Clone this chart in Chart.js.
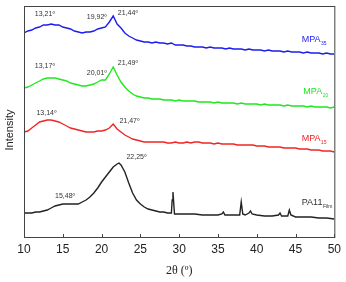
<!DOCTYPE html>
<html>
<head>
<meta charset="utf-8">
<script src="https://cdn.jsdelivr.net/npm/chart.js@4.4.0/dist/chart.umd.min.js"></script>
<style>
  html,body{margin:0;padding:0;background:#fff}
  #wrap{width:346px;height:282px}
</style>
</head>
<body>
<div id="wrap"><canvas id="xrd" width="346" height="282"></canvas></div>
<script>
// 2θ sampling grid for the three MPA scans (10..50 every 0.5 deg)
const THETA = Array.from({length:81},(_,i)=>10+i*0.5)

// stacked intensities (arbitrary units, offsets included)
const MPA35 = [204,206,207,209,210,212,212,213,212,212,
  210,209,208,206,205,204,205,205,206,208,
  209,210,215,221,213,209,204,201,199,197,
  196,195,195,194,195,194,194,193,194,192,
  192,192,191,191,190,190,190,189,190,189,
  189,189,188,189,188,188,188,187,188,187,
  187,187,186,187,186,186,186,185,186,185,
  185,185,184,185,184,184,184,183,184,183,
  183]
const MPA20 = [149,150,152,154,156,158,159,159,159,158,
  157,156,154,153,152,151,151,152,153,155,
  157,157,163,170,162,155,150,146,143,141,
  140,139,139,138,138,138,137,137,137,136,
  137,136,136,136,136,135,135,135,135,134,
  135,134,134,134,134,133,134,133,133,133,
  133,132,133,132,132,132,132,131,132,131,
  131,131,131,130,131,130,130,130,130,129,
  130]
const MPA15 = [105,106,109,112,115,116,117,117,116,115,
  113,111,109,108,107,106,105,105,105,106,
  106,107,109,113,108,105,102,100,98,97,
  96,95,95,95,95,95,95,94,94,95,
  94,94,95,94,95,95,94,94,94,93,
  94,93,93,93,93,92,92,92,92,92,
  91,91,91,90,90,90,90,89,89,89,
  89,88,88,88,87,87,87,86,86,86,
  85]
const PA11_THETA = [10,10.5,11,11.5,12,12.5,13,13.5,14,14.5,15,15.5,16,16.5,17,17.5,18,18.5,19,19.5,20,20.5,21,21.5,22,
  22.25,22.5,23,23.5,24,24.5,25,25.5,26,26.5,27,27.5,28,28.5,29,
  29.1,29.2,29.3,29.4,30,31,32,33,34,35,35.5,35.7,35.9,36,37,37.8,38,38.2,38.5,39,39.2,39.4,
  40,41,42,42.8,43,43.2,44,44.2,44.4,45,46,47,48,49,50]
const PA11 = [24,24,24,25,25,26,27,29,31,32,33,33,33,33,33,35,37,40,44,49,55,60,65,70,73,
  74,72,65,54,44,37,33,30,28,27,26,25,25,24,24,
  37,45,34,23,23,23,23,22,22,22,23,25,22,22,22,22,35,23,22,24,26,23,
  22,21,21,22,24,21,21,27,22,20,20,20,19,19,18]

const X_TICKS = [10,15,20,25,30,35,40,45,50]

const C = { blue:'#1c1cf0', green:'#1ee81e', red:'#f02424', black:'#222', text:'#222', axis:'#444' }
const pts = (xs,ys)=>xs.map((x,i)=>({x, y:ys[i]}))

// peak notes: [text, theta, intensity]
const notes = [
  ['13,21º',11.4,223],['19,92º',18.1,220],['21,44º',22.1,224],
  ['13,17º',11.4,171],['20,01º',18.1,164],['21,49º',22.1,174],
  ['13,14º',11.6,124],['21,47º',22.3,116],
  ['22,25º',23.2,80],['15,48º',14.0,41]
]
const tags = [
  ['MPA','35',45.8,197,C.blue],['MPA','20',46.0,145,C.green],
  ['MPA','15',45.8,98,C.red],['PA11','Film',45.8,34,'#333']
]

const decor = {
  id:'decor',
  afterDraw(chart){
    const {ctx, chartArea:a, scales:{x,y}} = chart
    ctx.save()
    ctx.strokeStyle = C.axis; ctx.lineWidth = 1
    ctx.strokeRect(a.left+0.5, a.top+0.5, a.right-a.left, a.bottom-a.top)
    ctx.beginPath()
    X_TICKS.forEach(v=>{ const px = Math.round(x.getPixelForValue(v))+0.5; ctx.moveTo(px,a.bottom); ctx.lineTo(px,a.bottom-3) })
    ctx.stroke()
    ctx.fillStyle = '#333'; ctx.font = '7px "Liberation Sans", Arial'
    ctx.textBaseline = 'middle'; ctx.textAlign = 'left'
    notes.forEach(([t,tx,ty])=>ctx.fillText(t, x.getPixelForValue(tx), y.getPixelForValue(ty)))
    tags.forEach(([t,sub,tx,ty,col])=>{
      const px = x.getPixelForValue(tx), py = y.getPixelForValue(ty)
      ctx.fillStyle = col; ctx.font = '9px "Liberation Sans", Arial'
      ctx.fillText(t, px, py)
      const w = ctx.measureText(t).width
      ctx.font = '5px "Liberation Sans", Arial'
      ctx.fillText(sub, px+w+0.5, py+4)
    })
    ctx.fillStyle = C.text; ctx.textAlign = 'center'
    ctx.font = '12px "Liberation Serif", serif'
    ctx.fillText('2θ (º)', (a.left+a.right)/2, 271)
    ctx.translate(10, 130); ctx.rotate(-Math.PI/2)
    ctx.font = '11px "Liberation Sans", Arial'
    ctx.fillText('Intensity', 0, 0)
    ctx.restore()
  }
}

const line = (data,color)=>({ data, borderColor:color, borderWidth:1.4, pointRadius:0, tension:0, fill:false })

new Chart(document.getElementById('xrd'),{
  type:'line',
  data:{ datasets:[
    line(pts(THETA,MPA35),C.blue),
    line(pts(THETA,MPA20),C.green),
    line(pts(THETA,MPA15),C.red),
    line(pts(PA11_THETA,PA11),C.black)
  ]},
  options:{
    responsive:false, animation:false,
    layout:{ padding:{left:24,right:10,top:6,bottom:0} },
    plugins:{ legend:{display:false}, tooltip:{enabled:false} },
    scales:{
      x:{ type:'linear', min:10, max:50,
        afterBuildTicks:s=>{ s.ticks = X_TICKS.map(v=>({value:v})) },
        afterFit:s=>{ s.height = 45 },
        grid:{display:false, drawTicks:false}, border:{display:false},
        ticks:{ padding:5, color:C.text, font:{family:'"Liberation Sans", Arial', size:12} } },
      y:{ display:false, min:0, max:231 }
    }
  },
  plugins:[decor]
})
</script>
</body>
</html>
